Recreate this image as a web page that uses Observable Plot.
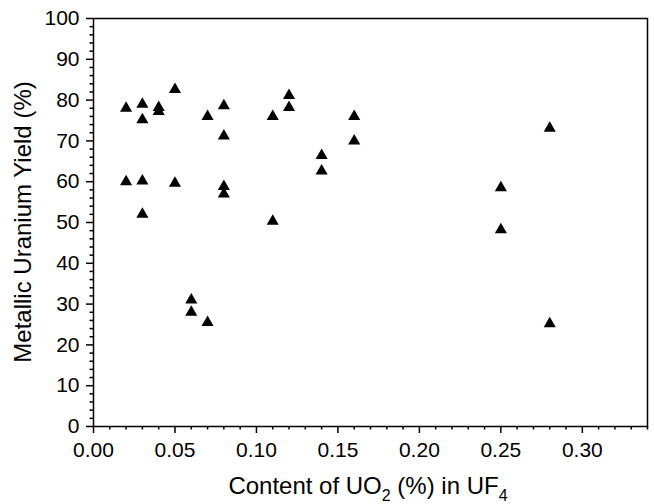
<!DOCTYPE html>
<html>
<head>
<meta charset="utf-8">
<script src="https://cdn.jsdelivr.net/npm/d3@7"></script>
<script src="https://cdn.jsdelivr.net/npm/@observablehq/plot@0.6"></script>
<style>
  html, body { margin: 0; padding: 0; background: white; }
</style>
</head>
<body>
<div id="chart"></div>
<script>
// Data
const uo2Content = [0.02, 0.02, 0.03, 0.03, 0.03, 0.03, 0.04, 0.04, 0.05, 0.05,
                    0.06, 0.06, 0.07, 0.07, 0.08, 0.08, 0.08, 0.08, 0.11, 0.11,
                    0.12, 0.12, 0.14, 0.14, 0.16, 0.16, 0.25, 0.25, 0.28, 0.28];
const uraniumYield = [78, 60, 79, 75.2, 60.2, 52, 78.2, 77.2, 82.6, 59.6,
                      31, 28, 76, 25.5, 78.6, 71.2, 58.8, 57, 76, 50.3,
                      81.1, 78.2, 66.4, 62.6, 76, 70, 58.5, 48.2, 73.1, 25.2];
const xTicks = [0, 0.05, 0.10, 0.15, 0.20, 0.25, 0.30];
const yTicks = [0, 10, 20, 30, 40, 50, 60, 70, 80, 90, 100];
const xLabelParts = ["Content of UO", "2", " (%) in UF", "4"];
const yLabel = "Metallic Uranium Yield (%)";

const data = uo2Content.map((x, i) => ({x, y: uraniumYield[i]}));

const xMinor = d3.range(0, 35).map(i => +(i * 0.01).toFixed(2)).filter(v => !xTicks.some(t => Math.abs(t - v) < 1e-9));
const yMinor = d3.range(0, 51).map(i => i * 2).filter(v => v % 10 !== 0);

const W = 654, H = 504;
const mL = 93, mR = 7, mT = 18, mB = 78;

const chart = Plot.plot({
  width: W,
  height: H,
  marginLeft: mL,
  marginRight: mR,
  marginTop: mT,
  marginBottom: mB,
  style: {fontFamily: "'Liberation Sans', Arial, sans-serif", fontSize: "21px", background: "white", color: "black"},
  x: {domain: [0, 0.34]},
  y: {domain: [0, 100]},
  marks: [
    Plot.axisX(xMinor, {tickSize: 3.5, strokeWidth: 1.5, fill: "none", label: null}),
    Plot.axisY(yMinor, {tickSize: 3.5, strokeWidth: 1.5, fill: "none", label: null}),
    Plot.axisX(xTicks, {tickSize: 7, strokeWidth: 1.5, tickPadding: 9, tickFormat: d3.format(".2f"), fontSize: 21, label: null}),
    Plot.axisY(yTicks, {tickSize: 7, strokeWidth: 1.5, tickPadding: 7, tickFormat: d3.format("d"), fontSize: 21, label: null}),
    Plot.frame({stroke: "black", strokeWidth: 1.5}),
    Plot.dot(data, {x: "x", y: "y", symbol: "triangle", r: 4.5, fill: "black", stroke: "none"})
  ]
});

const svg = d3.select(chart);
// X axis title with subscripts
const xt = svg.append("text")
  .attr("x", 368)
  .attr("y", 494)
  .attr("text-anchor", "middle")
  .attr("font-size", 24)
  .attr("fill", "black");
xLabelParts.forEach((p, i) => {
  const sub = i % 2 === 1;
  xt.append("tspan")
    .attr("font-size", sub ? 16 : 24)
    .attr("dy", sub ? 7 : (i === 0 ? 0 : -7))
    .text(p);
});
// Y axis title
svg.append("text")
  .attr("transform", `translate(31,${(mT + (H - mB)) / 2}) rotate(-90)`)
  .attr("text-anchor", "middle")
  .attr("font-size", 24)
  .attr("fill", "black")
  .text(yLabel);

document.getElementById("chart").appendChild(chart);
</script>
</body>
</html>
